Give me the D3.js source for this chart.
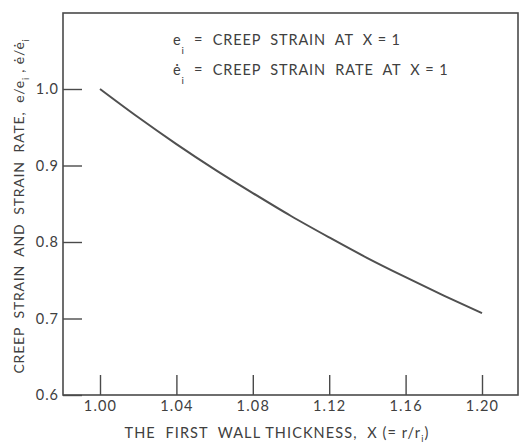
<!DOCTYPE html>
<html>
<head>
<meta charset="utf-8">
<script src="https://cdn.jsdelivr.net/npm/d3@7"></script>
<style>
  html, body { margin: 0; padding: 0; background: #ffffff; }
  svg { display: block; }
  text { font-family: Lato, "Open Sans", sans-serif; fill: #404040; }
</style>
</head>
<body>
<svg id="chart" width="520" height="444"></svg>
<script>
// Relative creep strain (and strain rate) vs first-wall thickness ratio
const thickness = [1.00, 1.02, 1.04, 1.06, 1.08, 1.10, 1.12, 1.14, 1.16, 1.18, 1.20];
const ratio     = [1.000, 0.963, 0.928, 0.895, 0.864, 0.834, 0.806, 0.779, 0.754, 0.730, 0.707];

const xTicks = [1.00, 1.04, 1.08, 1.12, 1.16, 1.20];
const yTicks = [0.6, 0.7, 0.8, 0.9, 1.0];

const svg = d3.select("#chart");
const ink = "#4a4a4a";

// frame of the plotting area
const frame = { left: 63, top: 13, right: 518, bottom: 395 };

const x = d3.scaleLinear().domain([1.00, 1.20]).range([100, 482]);
const y = d3.scaleLinear().domain([0.6, 1.0]).range([frame.bottom, 89]);

// box
svg.append("rect")
  .attr("x", frame.left).attr("y", frame.top)
  .attr("width", frame.right - frame.left).attr("height", frame.bottom - frame.top)
  .attr("fill", "none").attr("stroke", ink).attr("stroke-width", 1.6);

// y axis: ticks pointing inward
const yAxis = d3.axisLeft(y).tickValues(yTicks).tickFormat(d3.format(".1f"))
  .tickSizeInner(-19).tickSizeOuter(0).tickPadding(4);
const gy = svg.append("g").attr("transform", `translate(${frame.left},0)`).call(yAxis);
gy.select(".domain").remove();
gy.selectAll(".tick line").attr("stroke", ink).attr("stroke-width", 1.4);
gy.selectAll(".tick text")
  .style("font-family", "Lato, sans-serif").style("font-size", "14.5px")
  .style("letter-spacing", "1px").attr("fill", "#404040");

// x axis: ticks pointing upward into the plot
const xAxis = d3.axisBottom(x).tickValues(xTicks).tickFormat(d3.format(".2f"))
  .tickSizeInner(-20).tickSizeOuter(0).tickPadding(6);
const gx = svg.append("g").attr("transform", `translate(0,${frame.bottom})`).call(xAxis);
gx.select(".domain").remove();
gx.selectAll(".tick line").attr("stroke", ink).attr("stroke-width", 1.4);
gx.selectAll(".tick text")
  .style("font-family", "Lato, sans-serif").style("font-size", "14.5px")
  .style("letter-spacing", "1.2px").attr("fill", "#404040");

// curve
const line = d3.line().x((d, i) => x(thickness[i])).y(d => y(d)).curve(d3.curveMonotoneX);
svg.append("path").datum(ratio)
  .attr("d", line).attr("fill", "none")
  .attr("stroke", "#505050").attr("stroke-width", 2);

// legend
const legend = svg.append("g").attr("font-size", 14.5).attr("letter-spacing", 0.9);
const l1 = legend.append("text").attr("x", 173).attr("y", 45);
l1.append("tspan").text("e");
l1.append("tspan").attr("dy", 9).attr("font-size", 10).text("i");
l1.append("tspan").attr("dy", -9).text("  =  CREEP  STRAIN  AT  X = 1");
const l2 = legend.append("text").attr("x", 173).attr("y", 75);
l2.append("tspan").text("\u0117");
l2.append("tspan").attr("dy", 9).attr("font-size", 10).text("i");
l2.append("tspan").attr("dy", -9).text("  =  CREEP  STRAIN  RATE  AT  X = 1");
legend.selectAll("text").style("white-space", "pre");

// x axis title
const xt = svg.append("text")
  .attr("x", 277).attr("y", 438).attr("text-anchor", "middle")
  .attr("font-size", 14.5).attr("letter-spacing", 1.1)
  .style("white-space", "pre");
xt.append("tspan").text("THE  FIRST  WALL THICKNESS,  X (= r/r");
xt.append("tspan").attr("dy", 4).attr("font-size", 9).text("i");
xt.append("tspan").attr("dy", -4).text(")");

// y axis title
const yt = svg.append("text")
  .attr("transform", "translate(24,206) rotate(-90)")
  .attr("text-anchor", "middle")
  .attr("font-size", 14).attr("letter-spacing", 0.8)
  .style("white-space", "pre");
yt.append("tspan").text("CREEP  STRAIN  AND  STRAIN  RATE,  e/e");
yt.append("tspan").attr("dy", 5).attr("font-size", 9).text("i");
yt.append("tspan").attr("dy", -5).text(" , \u0117/\u0117");
yt.append("tspan").attr("dy", 5).attr("font-size", 9).text("i");
</script>
</body>
</html>
